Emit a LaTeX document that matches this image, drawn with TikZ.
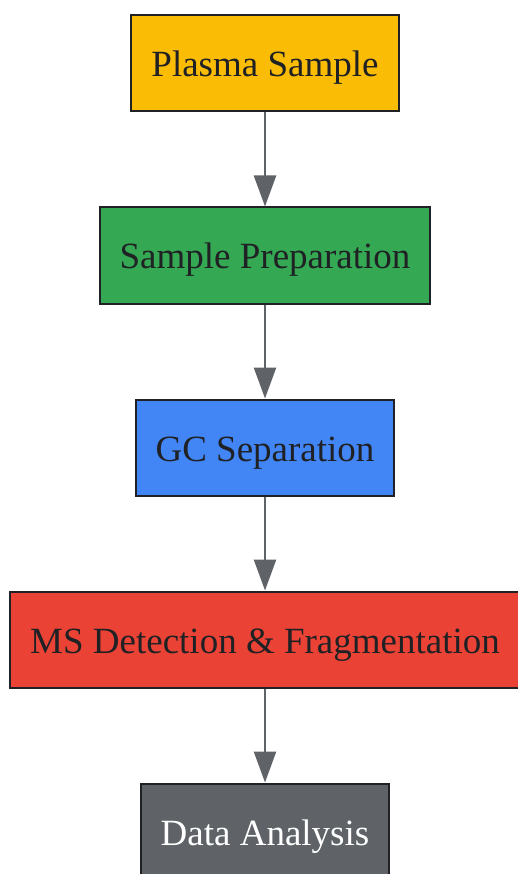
\documentclass[tikz,border=0pt]{standalone}
\usepackage{fontspec}
\setmainfont{Liberation Serif}
\usetikzlibrary{arrows.meta}

\definecolor{gyellow}{HTML}{FBBC05}
\definecolor{ggreen}{HTML}{34A853}
\definecolor{gblue}{HTML}{4285F4}
\definecolor{gred}{HTML}{EA4335}
\definecolor{ggray}{HTML}{5F6368}
\definecolor{gdark}{HTML}{202124}

\begin{document}
\begin{tikzpicture}[x=1pt,y=-1pt,-{Triangle[width=22pt,length=31pt]}]
		\tikzstyle{stage} = [rectangle,draw=gdark,line width=2pt,text=gdark,minimum height=96pt,inner xsep=20pt,text height=35pt,text depth=8pt,font=\fontsize{37}{44}\selectfont]
		\tikzstyle{flow}  = [draw=ggray,line width=2.5pt]
		
		\useasboundingbox (0,0) rectangle (518,874);
		\clip (0,0) rectangle (518,874);
		
		\node[stage,fill=gyellow] (plasma) at (265,63) {Plasma Sample};
		\node[stage,fill=ggreen] (prep) at (265,255.5) {Sample Preparation};
		\node[stage,fill=gblue] (gc) at (265,447.5) {GC Separation};
		\node[stage,fill=gred] (ms) at (265,639.5) {MS Detection \& Fragmentation};
		\node[stage,fill=ggray,text=white] (data) at (265,831.5) {Data Analysis};
		
		\path (plasma) edge[flow] (prep);
		\path (prep) edge[flow] (gc);
		\path (gc) edge[flow] (ms);
		\path (ms) edge[flow] (data);
	\end{tikzpicture}
\end{document}
